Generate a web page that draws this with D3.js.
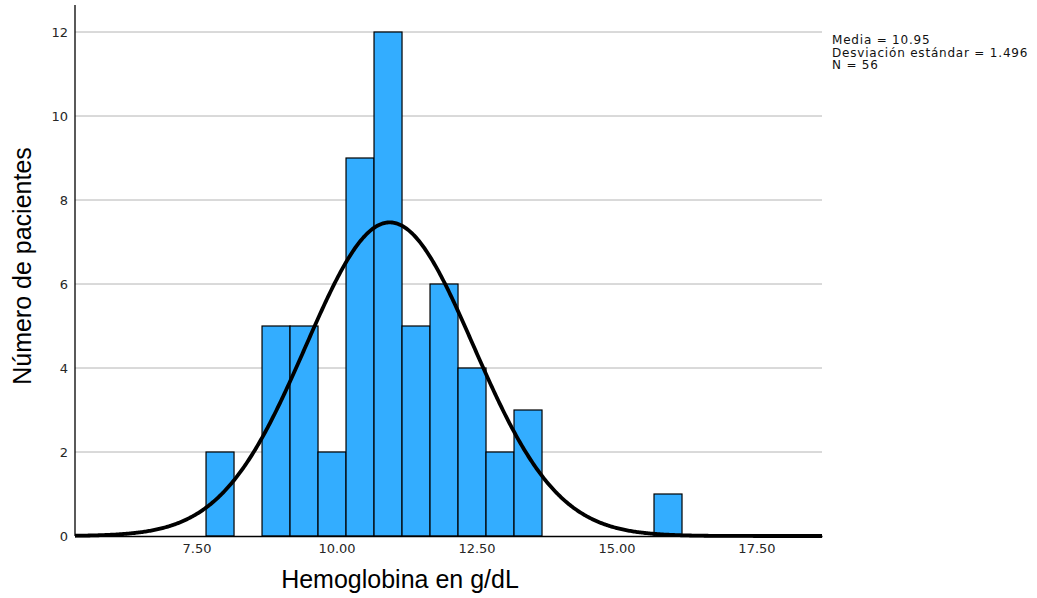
<html>
<head>
<script src="https://cdn.jsdelivr.net/npm/d3@7"></script>
<style>
  body { margin: 0; background: #fff; }
  .tick text { font-family: "DejaVu Sans", sans-serif; font-size: 13px; fill: #262626; }
  .title { font-family: "Liberation Sans", Arial, sans-serif; font-size: 25px; fill: #000; }
  .stats { font-family: "DejaVu Sans", sans-serif; font-size: 12px; letter-spacing: 0.8px; fill: #111; }
</style>
</head>
<body>
<svg id="chart" width="1037" height="598"></svg>
<script>
// histogram bins (start value, counts), width 0.5 g/dL
const binStart = 7.67;
const binWidth = 0.5;
const counts = [2, 0, 5, 5, 2, 9, 12, 5, 6, 4, 2, 3, 0, 0, 0, 0, 1];
const xTicks = [7.5, 10, 12.5, 15, 17.5];
const yTicks = [0, 2, 4, 6, 8, 10, 12];
const media = 10.95, sd = 1.496, n = 56;
const statLines = ["Media = 10.95", "Desviación estándar = 1.496", "N = 56"];

const svg = d3.select('#chart');
const plotL = 75, plotR = 822, plotT = 32, plotB = 536;

const x = d3.scaleLinear().domain([5.33, 18.67]).range([plotL, plotR]);
const y = d3.scaleLinear().domain([0, 12]).range([plotB, plotT]);

// gridlines
svg.append('g').selectAll('line')
  .data(yTicks.filter(d => d > 0))
  .enter().append('line')
  .attr('x1', plotL).attr('x2', plotR)
  .attr('y1', d => y(d)).attr('y2', d => y(d))
  .attr('stroke', '#b4b4b4').attr('stroke-width', 1);

// bars
svg.append('g').selectAll('rect')
  .data(counts.map((c, i) => ({x0: binStart + i * binWidth, c: c})).filter(d => d.c > 0))
  .enter().append('rect')
  .attr('x', d => x(d.x0))
  .attr('width', d => x(d.x0 + binWidth) - x(d.x0))
  .attr('y', d => y(d.c))
  .attr('height', d => y(0) - y(d.c))
  .attr('fill', '#33adff')
  .attr('stroke', '#000').attr('stroke-width', 1.2);

// normal curve
const k = n * binWidth / (sd * Math.sqrt(2 * Math.PI));
const curve = d3.range(5.33, 18.68, 0.02).map(v => [v, k * Math.exp(-0.5 * Math.pow((v - media) / sd, 2))]);
svg.append('path')
  .datum(curve)
  .attr('fill', 'none').attr('stroke', '#000').attr('stroke-width', 3.8)
  .attr('d', d3.line().x(d => x(d[0])).y(d => y(d[1])));

// axes
const xAxis = svg.append('g').attr('transform', 'translate(0,' + plotB + ')')
  .call(d3.axisBottom(x).tickValues(xTicks).tickFormat(d3.format('.2f')).tickSize(0).tickPadding(8));
xAxis.select('.domain').attr('stroke', '#000').attr('stroke-width', 1.3);

const yAxis = svg.append('g').attr('transform', 'translate(' + plotL + ',0)')
  .call(d3.axisLeft(y).tickValues(yTicks).tickSize(0).tickPadding(7));
yAxis.select('.domain').remove();
svg.append('line').attr('x1', plotL).attr('x2', plotL).attr('y1', 5).attr('y2', plotB)
  .attr('stroke', '#000').attr('stroke-width', 1.3);

// titles
svg.append('text').attr('class', 'title')
  .attr('x', 400).attr('y', 588).attr('text-anchor', 'middle')
  .text('Hemoglobina en g/dL');
svg.append('text').attr('class', 'title')
  .attr('transform', 'translate(31,266) rotate(-90)').attr('text-anchor', 'middle')
  .text('Número de pacientes');

// stats
svg.append('g').selectAll('text')
  .data(statLines).enter().append('text')
  .attr('class', 'stats')
  .attr('x', 832).attr('y', (d, i) => 44 + i * 12.5)
  .text(d => d);
</script>
</body>
</html>
